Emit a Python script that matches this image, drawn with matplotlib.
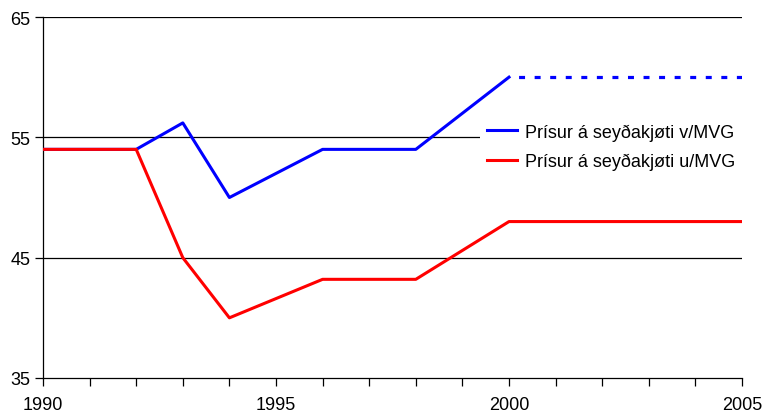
import matplotlib.pyplot as plt
import numpy as np

plt.rcParams['font.family'] = ['Liberation Sans', 'DejaVu Sans']

years = [1990, 1992, 1993, 1994, 1996, 1998, 2000]
blue_vals = [54, 54, 56.2, 50, 54, 54, 60]
red_years = [1990, 1992, 1993, 1994, 1996, 1998, 2000, 2005]
red_vals = [54, 54, 45, 40, 43.2, 43.2, 48, 48]
proj_years = [2000, 2005]
proj_vals = [60, 60]

fig = plt.figure(figsize=(7.62, 4.14), dpi=100)
ax = fig.add_axes([43/762, 1 - 379/414, (742-43)/762, (379-18)/414])

for y in [45, 55, 65]:
    ax.axhline(y, color='black', lw=0.9, zorder=1)

ax.plot(years, blue_vals, color='#0000ff', lw=2.2, label='Prísur á seyðakjøti v/MVG', zorder=3)
ax.plot(proj_years, proj_vals, color='#0000ff', lw=2.3, ls=(1.87, (1.87, 3.0)), zorder=3)
ax.plot(red_years, red_vals, color='#ff0000', lw=2.2, label='Prísur á seyðakjøti u/MVG', zorder=3)

ax.set_xlim(1990, 2005)
ax.set_ylim(35, 65)
ax.set_xticks([1990, 1995, 2000, 2005])
ax.set_xticks(np.arange(1990, 2006), minor=True)
ax.set_yticks([35, 45, 55, 65])
ax.tick_params(axis='both', which='both', direction='out', length=6, width=0.9, labelsize=13)
ax.tick_params(axis='x', pad=7)
ax.tick_params(axis='y', pad=3)

for s in ['top', 'right']:
    ax.spines[s].set_visible(False)
ax.spines['left'].set_linewidth(0.9)
ax.spines['bottom'].set_linewidth(0.9)

leg = ax.legend(loc='center left', bbox_to_anchor=(0.625, 0.641), frameon=True, fontsize=13,
                handlelength=1.67, handletextpad=0.45, borderaxespad=0, labelspacing=0.67,
                fancybox=False, edgecolor='none', framealpha=1)
leg.set_zorder(4)

fig.savefig('out.png', dpi=100)
